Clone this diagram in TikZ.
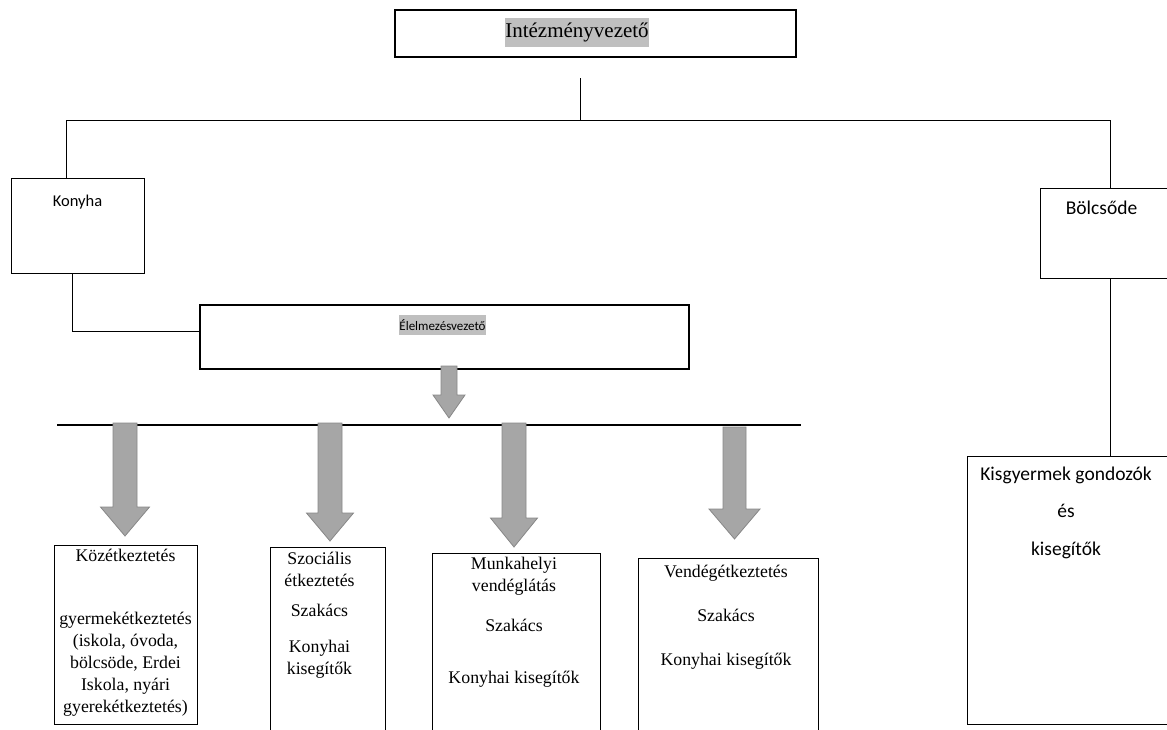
\documentclass[tikz,border=0pt]{standalone}
\usepackage{fontspec}
\setmainfont{Liberation Serif}
\newfontfamily\calibri{Carlito}
\usetikzlibrary{positioning}
\definecolor{hlgray}{RGB}{191,191,191}
\definecolor{arrowfill}{RGB}{166,166,166}
\definecolor{arrowedge}{RGB}{135,135,135}

\begin{document}
\begin{tikzpicture}[x=1pt, y=-1pt,
    box/.style={draw, line width=0.9pt, inner sep=0pt},
    hl/.style={fill=hlgray, inner xsep=0.5pt, inner ysep=4.5pt},
    serif/.style={font=\fontsize{17.8}{22}\selectfont, align=center, inner sep=0pt},
    sans/.style={font=\calibri\fontsize{19.5}{22}\selectfont, align=center, inner sep=0pt},
    link/.style={line width=0.8pt},
    rail/.style={line width=1.6pt},
    garrow/.style={fill=arrowfill, draw=arrowedge, line width=0.8pt}
]
    \useasboundingbox (0,0) rectangle (1167,729);

    % boxes
    \node[box, line width=1.4pt, minimum width=401pt, minimum height=47pt] (vezeto) at (595.5,33.5) {};
    \node[box, minimum width=133pt, minimum height=95pt] (konyha) at (77.5,225.5) {};
    \node[box, line width=1.1pt, minimum width=489pt, minimum height=64pt] (elelmezes) at (444.5,337) {};
    \node[box, minimum width=135pt, minimum height=90pt] (bolcsode) at (1107.5,233) {};
    \node[box, minimum width=208pt, minimum height=268pt] (gondozok) at (1071,590) {};
    \node[box, minimum width=143pt, minimum height=179pt] (kozet) at (125.5,634.5) {};
    \node[box, minimum width=115pt, minimum height=193pt] (szoc) at (327.5,643.5) {};
    \node[box, minimum width=168pt, minimum height=187pt] (munka) at (516,646.5) {};
    \node[box, minimum width=180pt, minimum height=182pt] (vendeg) at (728,649) {};

    % texts
    \node[hl, font=\fontsize{21}{25}\selectfont] (vezetotext) at (577,32.5) {Intézményvezető};
    \node[hl, font=\calibri\fontsize{13}{16}\selectfont] (elelmezestext) at (442.5,325) {Élelmezésvezető};
    \node[sans, font=\calibri\fontsize{16.5}{20}\selectfont, below=17pt of konyha.north] (konyhatext) {Konyha};
    \node[sans, below=13pt of bolcsode.north, xshift=-6pt] (bolcsodetext) {Bölcsőde};
    \node[sans, below=11pt of gondozok.north, xshift=-5pt] (gondozoktext)
        {Kisgyermek gondozók\\[15.5pt]és\\[15.5pt]kisegítők};
    \node[serif, below=4pt of kozet.north] (kozettext)
        {Közétkeztetés\\[41pt]gyermekétkeztetés\\(iskola, óvoda,\\bölcsöde, Erdei\\Iskola, nyári\\gyerekétkeztetés)};
    \node[serif, below=5pt of szoc.north, xshift=-8pt] (szoctext)
        {Szociális\\étkeztetés\\[8pt]Szakács\\[14pt]Konyhai\\kisegítők};
    \node[serif, below=4pt of munka.north, xshift=-2pt] (munkatext)
        {Munkahelyi\\vendéglátás\\[18pt]Szakács\\[30pt]Konyhai kisegítők};
    \node[serif, below=7pt of vendeg.north, xshift=-2pt] (vendegtext)
        {Vendégétkeztetés\\[22pt]Szakács\\[22pt]Konyhai kisegítők};

    % connectors
    \coordinate (stem) at (580,78);
    \coordinate (busL) at (66,120);
    \coordinate (busR) at (1110,120);
    \coordinate (kfoot) at (72,331);
    \draw[link] (stem) -- (stem |- busL);
    \draw[link] (busL) -- (busR);
    \draw[link] (busL) -- (busL |- konyha.north);
    \draw[link] (busR) -- (busR |- bolcsode.north);
    \draw[link] (konyha.south -| kfoot) -- (kfoot) -- (kfoot -| elelmezes.west);
    \draw[link] (bolcsode.south -| busR) -- (busR |- gondozok.north);

    % rail and block arrows
    \coordinate (railL) at (57,425);
    \coordinate (railR) at (801,425);
    \draw[rail] (railL) -- (railR);
    \foreach \cx/\ya/\yb/\yc/\sw/\hw in {449/366/395/418/8/16, 125/423/507/536/12/24.5,
        330/423/513/541/12/23.5, 514/423/518/547/12/23.5, 734.5/427/509/539/11.5/25.5}
        \draw[garrow] (\cx-\sw,\ya) -- (\cx+\sw,\ya) -- (\cx+\sw,\yb) -- (\cx+\hw,\yb)
            -- (\cx,\yc) -- (\cx-\hw,\yb) -- (\cx-\sw,\yb) -- cycle;
\end{tikzpicture}
\end{document}
